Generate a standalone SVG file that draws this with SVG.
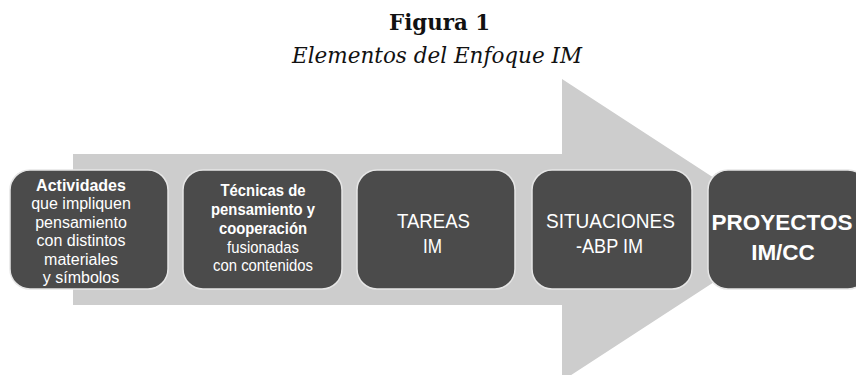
<svg xmlns="http://www.w3.org/2000/svg" width="856" height="375" viewBox="0 0 856 375">
<style>
.box{fill:#4b4b4b;stroke:#e6e6e6;stroke-width:1.5}
.t{fill:#ffffff;font-family:"Liberation Sans",Arial,sans-serif;text-anchor:middle}
.s{font-size:16px}
.s2{font-size:16.5px}
.b{font-weight:bold}
.m{font-size:21px}
.l{font-size:22.5px;font-weight:bold}
.title{font-family:"DejaVu Serif",Georgia,serif;fill:#111111;text-anchor:middle}
</style>
<rect width="856" height="375" fill="#ffffff"/>
<g id="title">
<text class="title" x="439.5" y="30" font-size="23" font-weight="bold" textLength="101" lengthAdjust="spacingAndGlyphs">Figura 1</text>
<text class="title" x="437" y="63" font-size="22" font-style="italic" textLength="290" lengthAdjust="spacingAndGlyphs">Elementos del Enfoque IM</text>
</g>
<g id="connectors">
<polygon points="73,154 562,154 562,79 794,230 562,381 562,305 73,305" fill="#cdcdcd"/>
</g>
<g id="node1">
<rect class="box" x="10" y="170" width="158" height="119" rx="20"/>
<text class="t s" x="81" y="191"><tspan class="b">Actividades</tspan><tspan x="81" dy="18.4">que impliquen</tspan><tspan x="81" dy="18.4">pensamiento</tspan><tspan x="81" dy="18.4">con distintos</tspan><tspan x="81" dy="18.4">materiales</tspan><tspan x="81" dy="18.4">y símbolos</tspan></text>
</g>
<g id="node2">
<rect class="box" x="183" y="170" width="159" height="119" rx="20"/>
<text class="t s2" transform="translate(263,0) scale(0.9,1)" x="0" y="196.5"><tspan class="b">Técnicas de</tspan><tspan class="b" x="0" dy="18.7">pensamiento y</tspan><tspan class="b" x="0" dy="18.7">cooperación</tspan><tspan x="0" dy="18.7">fusionadas</tspan><tspan x="0" dy="18.7">con contenidos</tspan></text>
</g>
<g id="node3">
<rect class="box" x="357" y="170" width="158" height="119" rx="20"/>
<text class="t m" x="433.5" y="227.7" textLength="73" lengthAdjust="spacingAndGlyphs">TAREAS</text>
<text class="t m" x="432.5" y="253.3" textLength="19" lengthAdjust="spacingAndGlyphs">IM</text>
</g>
<g id="node4">
<rect class="box" x="532" y="170" width="160" height="119" rx="20"/>
<text class="t m" x="610.5" y="227.7" textLength="129" lengthAdjust="spacingAndGlyphs">SITUACIONES</text>
<text class="t m" x="609.5" y="253.3" textLength="67" lengthAdjust="spacingAndGlyphs">-ABP IM</text>
</g>
<g id="node5">
<rect class="box" x="708" y="170" width="160" height="119" rx="20"/>
<text class="t l" x="782" y="230">PROYECTOS</text>
<text class="t l" x="783" y="260">IM/CC</text>
</g>
</svg>
